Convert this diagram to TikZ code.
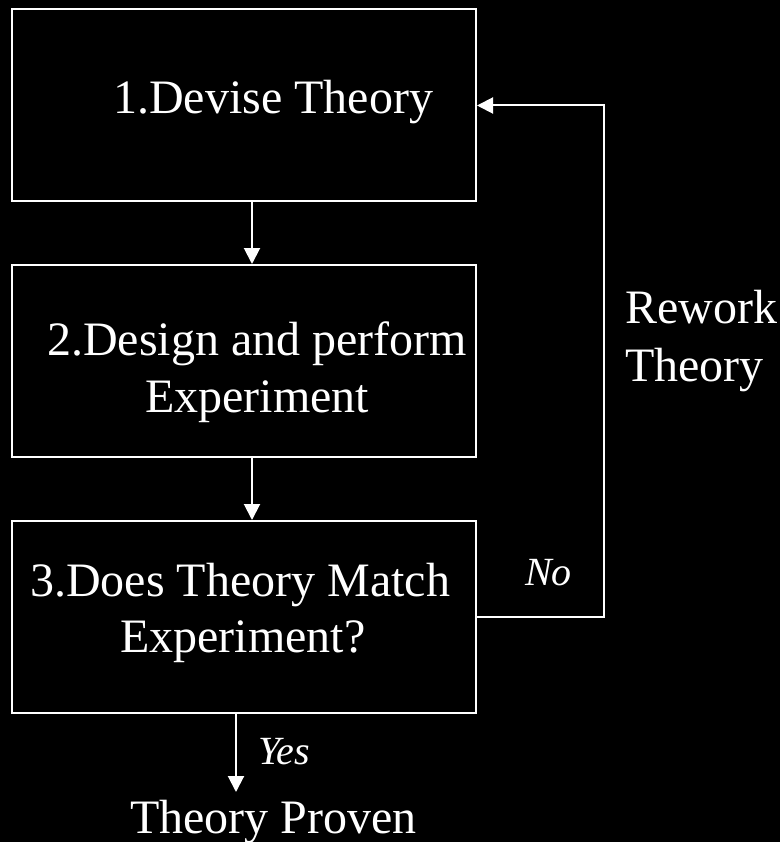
\documentclass[tikz,border=0pt]{standalone}
\usepackage{fontspec}
\setmainfont{Liberation Serif}
\usetikzlibrary{arrows.meta}
\begin{document}
\begin{tikzpicture}[x=1pt,y=-1pt,
  box/.style={draw=white,line width=2pt,rectangle,minimum width=464pt,minimum height=192pt,inner sep=0pt},
  txt/.style={text=white,inner sep=0pt,anchor=base west,font=\fontsize{48}{56}\selectfont},
  itxt/.style={text=white,inner sep=0pt,anchor=base west,font=\fontsize{40}{48}\selectfont\itshape},
  arr/.style={draw=white,line width=2pt,-{Triangle[width=16pt,length=16pt]}}]
\fill[black] (0,0) rectangle (780,842);
\useasboundingbox (0,0) rectangle (780,842);
\node[box] (b1) at (244,105.5) {};
\node[box] (b2) at (244,361) {};
\node[box] (b3) at (244,617) {};
\node[txt] (t1) at (113,114) {1.Devise Theory};
\node[txt] (t2a) at (47,355) {2.Design and perform};
\node[txt] (t2b) at (145,412) {Experiment};
\node[txt] (t3a) at (30,596) {3.Does Theory Match};
\node[txt] (t3b) at (120,652) {Experiment?};
\node[txt] (rw1) at (625,323) {Rework};
\node[txt] (rw2) at (625,381) {Theory};
\node[itxt] (no) at (525,585) {No};
\node[itxt] (yes) at (258,764) {Yes};
\node[txt] (tp) at (130,833) {Theory Proven};
\coordinate (fb) at (604,617);
\coordinate (yend) at (236,792);
\draw[arr] ([xshift=8pt]b1.south) -- ([xshift=8pt]b2.north);
\draw[arr] ([xshift=8pt]b2.south) -- ([xshift=8pt]b3.north);
\draw[arr] (b3.east) -- (fb) |- (b1.east);
\draw[arr] ([xshift=-8pt]b3.south) -- (yend);
\end{tikzpicture}
\end{document}
